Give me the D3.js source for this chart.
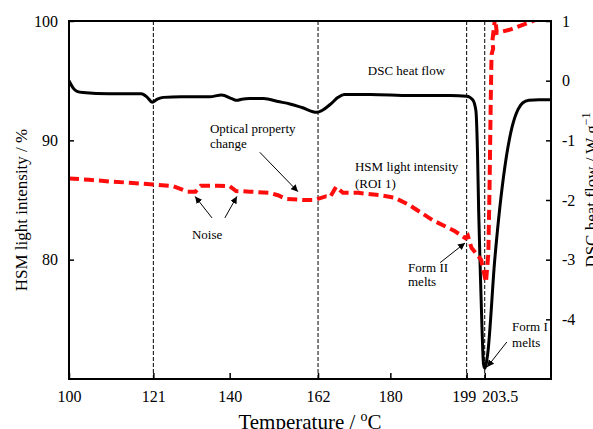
<!DOCTYPE html>
<html>
<head>
<meta charset="utf-8">
<script src="https://cdn.jsdelivr.net/npm/d3@7"></script>
<style>
  body { margin: 0; background: #fff; }
  svg text { font-family: "Liberation Serif", "Times New Roman", serif; fill: #000; }
</style>
</head>
<body>
<div id="chart"></div>
<script>
// DSC heat flow (right axis, W g-1)
const dscTemp = [100, 101, 102, 103.5, 110, 118, 119.5, 120.7, 122, 123.5, 128, 135, 138, 140.5, 141.8,
  143, 145, 148.5, 152, 155, 158, 161.7, 163, 165, 167, 168.5, 175, 185, 195, 199, 200.5, 201.3,
  201.7, 202.0, 202.4, 202.8, 203.2, 203.5, 204.2, 206, 208.5, 210.3, 211.8, 213, 214.5, 217, 220];
const dscFlow = [0.0, -0.12, -0.18, -0.2, -0.22, -0.22, -0.28, -0.36, -0.31, -0.28, -0.27, -0.27, -0.24, -0.3, -0.33,
  -0.31, -0.3, -0.3, -0.35, -0.39, -0.45, -0.53, -0.5, -0.4, -0.28, -0.23, -0.23, -0.25, -0.25, -0.26, -0.32, -0.5,
  -1.2, -2.2, -3.2, -4.1, -4.75, -4.82, -4.6, -3.0, -1.45, -0.78, -0.48, -0.37, -0.33, -0.32, -0.32];

// HSM light intensity, ROI 1 (left axis, %)
const hsmTemp = [100, 105, 110, 115, 121, 126, 129.5, 131.5, 132.8, 137, 140, 141.6, 145, 150, 152, 154,
  158.5, 161, 163.9, 165, 166.5, 168.2, 172, 177.6, 181, 184.6, 190.6, 196, 198.7, 199.3, 200.2, 202.6,
  203.8, 204.4, 204.7, 205.0, 205.2, 205.6, 205.4, 205.7, 206.1, 206.5, 210, 215.5, 218];
const hsmIntensity = [86.8, 86.7, 86.55, 86.45, 86.3, 86.15, 85.7, 85.7, 86.2, 86.2, 86.15, 85.75, 85.7, 85.6, 85.4, 85.1,
  85.0, 85.0, 85.3, 85.25, 86.1, 85.6, 85.6, 85.4, 85.2, 84.6, 83.3, 82.4, 81.8, 82.0, 81.0, 80.0,
  78.1, 80.5, 86.0, 93.4, 97.2, 97.7, 98.3, 99.2, 100.3, 99.0, 99.3, 100.0, 100.3];

const markerTemps = [121, 162, 199, 203.5];
const xTicks = [100, 121, 140, 162, 180, 199, 203.5];
const leftTicks = [80, 90, 100];
const rightTicks = [-4, -3, -2, -1, 0, 1];

const labelLines = [
  { t: 174.4, v: 95.5, text: "DSC heat flow" },
  { t: 135.1, v: 90.6, text: "Optical property" },
  { t: 135.1, v: 89.35, text: "change" },
  { t: 171.2, v: 87.45, text: "HSM light intensity" },
  { t: 171.2, v: 86.0, text: "(ROI 1)" },
  { t: 130.6, v: 81.7, text: "Noise" },
  { t: 184.4, v: 79.0, text: "Form II" },
  { t: 184.4, v: 77.8, text: "melts" },
  { t: 210.3, v: 74.0, text: "Form I" },
  { t: 210.3, v: 72.7, text: "melts" }
];
const arrows = [
  { t1: 147.5, v1: 89.0, t2: 157.0, v2: 85.7 },
  { t1: 135.6, v1: 83.5, t2: 131.4, v2: 85.3 },
  { t1: 138.8, v1: 83.5, t2: 141.8, v2: 85.3 },
  { t1: 192.4, v1: 79.75, t2: 198.6, v2: 81.4 },
  { t1: 209.0, v1: 73.1, t2: 204.1, v2: 71.0 }
];

const width = 593, height = 429;
const margin = { top: 21, right: 42, bottom: 50, left: 69 };
const innerWidth = width - margin.left - margin.right;
const innerHeight = height - margin.top - margin.bottom;

const svg = d3.select("#chart").append("svg")
  .attr("width", width)
  .attr("height", height);

const defs = svg.append("defs");
defs.append("clipPath").attr("id", "plot-clip")
  .append("rect").attr("width", innerWidth).attr("height", innerHeight);
defs.append("marker")
  .attr("id", "arrowhead")
  .attr("viewBox", "0 0 10 10")
  .attr("refX", 10).attr("refY", 5)
  .attr("markerWidth", 7).attr("markerHeight", 7)
  .attr("markerUnits", "userSpaceOnUse")
  .attr("orient", "auto")
  .append("path").attr("d", "M0,0 L10,5 L0,10 z").attr("fill", "#000");

const g = svg.append("g")
  .attr("transform", `translate(${margin.left},${margin.top})`);

const x = d3.scaleLinear().domain([100, 220]).range([0, innerWidth]);
const yL = d3.scaleLinear().domain([70, 100]).range([innerHeight, 0]);
const yR = d3.scaleLinear().domain([-5, 1]).range([innerHeight, 0]);

// vertical markers
g.selectAll(".marker")
  .data(markerTemps)
  .enter()
  .append("line")
  .attr("x1", d => x(d)).attr("x2", d => x(d))
  .attr("y1", 0).attr("y2", innerHeight)
  .attr("stroke", "#000")
  .attr("stroke-width", 1)
  .attr("stroke-dasharray", "4,2");

// curves
const plot = g.append("g").attr("clip-path", "url(#plot-clip)");

const dscLine = d3.line()
  .x(i => x(dscTemp[i]))
  .y(i => yR(dscFlow[i]))
  .curve(d3.curveMonotoneX);

plot.append("path")
  .attr("d", dscLine(d3.range(dscTemp.length)))
  .attr("fill", "none")
  .attr("stroke", "#000")
  .attr("stroke-width", 3)
  .attr("stroke-linejoin", "round");

const hsmLine = d3.line()
  .x(i => x(hsmTemp[i]))
  .y(i => yL(hsmIntensity[i]));

plot.append("path")
  .attr("d", hsmLine(d3.range(hsmTemp.length)))
  .attr("fill", "none")
  .attr("stroke", "#ff0d0d")
  .attr("stroke-width", 4)
  .attr("stroke-dasharray", "10,5");

// axes
const fmt = d => String(d);
g.append("g")
  .attr("transform", `translate(0,${innerHeight})`)
  .call(d3.axisBottom(x).tickValues(xTicks).tickSizeInner(-6).tickSizeOuter(0).tickPadding(12).tickFormat(fmt))
  .call(a => a.select(".domain").remove())
  .selectAll("text")
  .style("font-size", "16px")
  .attr("dx", d => d === 199 ? -3 : d === 203.5 ? 15 : 0);

g.append("g")
  .call(d3.axisLeft(yL).tickValues(leftTicks).tickSizeInner(-5).tickSizeOuter(0).tickPadding(11))
  .call(a => a.select(".domain").remove())
  .selectAll("text").style("font-size", "16px");

g.append("g")
  .attr("transform", `translate(${innerWidth},0)`)
  .call(d3.axisRight(yR).tickValues(rightTicks).tickSizeInner(-5).tickSizeOuter(0).tickPadding(11)
    .tickFormat(d => d < 0 ? "-" + Math.abs(d) : String(d)))
  .call(a => a.select(".domain").remove())
  .selectAll("text").style("font-size", "16px");

g.selectAll(".tick line").attr("stroke", "#000").attr("stroke-width", 1.5);

// frame
g.append("rect")
  .attr("width", innerWidth).attr("height", innerHeight)
  .attr("fill", "none").attr("stroke", "#000").attr("stroke-width", 2);

// axis titles
const xt = svg.append("text")
  .attr("x", 310).attr("y", 429)
  .attr("text-anchor", "middle")
  .style("font-size", "21px");
xt.append("tspan").text("Temperature / ");
xt.append("tspan").attr("dy", -8).style("font-size", "14px").text("o");
xt.append("tspan").attr("dy", 8).text("C");

svg.append("text")
  .attr("transform", "translate(27,210) rotate(-90)")
  .attr("text-anchor", "middle")
  .style("font-size", "17px")
  .text("HSM light intensity / %");

const rt = svg.append("text")
  .attr("transform", "translate(597,190) rotate(-90)")
  .attr("text-anchor", "middle")
  .style("font-size", "17px");
rt.append("tspan").text("DSC heat flow / W g");
rt.append("tspan").attr("dy", -7).style("font-size", "12px").text("\u22121");

// annotations
g.selectAll(".note")
  .data(labelLines)
  .enter()
  .append("text")
  .attr("x", d => x(d.t))
  .attr("y", d => yL(d.v))
  .style("font-size", "13px")
  .text(d => d.text);

g.selectAll(".arrow")
  .data(arrows)
  .enter()
  .append("line")
  .attr("x1", d => x(d.t1)).attr("y1", d => yL(d.v1))
  .attr("x2", d => x(d.t2)).attr("y2", d => yL(d.v2))
  .attr("stroke", "#000")
  .attr("stroke-width", 1)
  .attr("marker-end", "url(#arrowhead)");
</script>
</body>
</html>
